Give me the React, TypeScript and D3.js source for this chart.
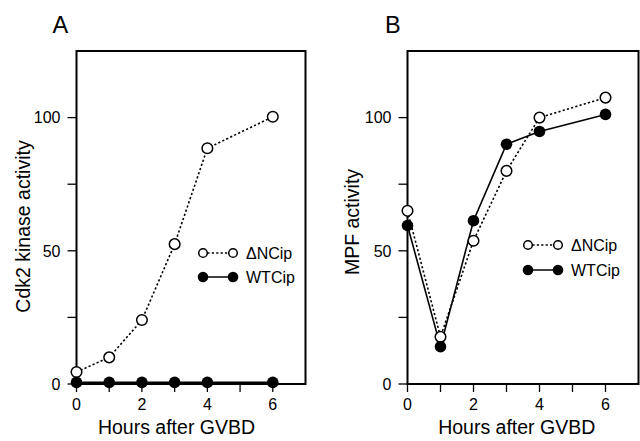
import React from 'react';
import * as d3 from 'd3';

const hours = [0, 1, 2, 3, 4, 6];
const cdk2DeltaNCip = [4.5, 10, 24, 52.5, 88.5, 100.3];
const cdk2WTCip = [0.6, 0.6, 0.6, 0.6, 0.6, 0.6];
const mpfDeltaNCip = [65, 17.7, 53.8, 80, 100, 107.5];
const mpfWTCip = [59.5, 14, 61.3, 90, 94.8, 101.2];
const xTicks = [0, 1, 2, 3, 4, 5, 6];
const xTickLabels = [0, 2, 4, 6];
const yTicks = [0, 25, 50, 75, 100];
const yTickLabels = [0, 50, 100];
const seriesNames = ['\u0394NCip', 'WTCip'];
const xTitle = 'Hours after GVBD';

const FONT = '"Liberation Sans", Arial, Helvetica, sans-serif';

type PanelProps = {
  title: string;
  titleX: number;
  left: number;
  right: number;
  yLabel: string;
  yLabelX: number;
  yLabelY: number;
  xLabelX: number;
  legendX: number;
  legendY: number;
  legendGap: number;
  open: number[];
  filled: number[];
};

function Panel(p: PanelProps) {
  const top = 51;
  const bottom = 384;
  const x = d3.scaleLinear().domain([0, 7]).range([p.left, p.right]);
  const y = d3.scaleLinear().domain([0, 125]).range([bottom, top]);
  const line = d3
    .line<number>()
    .x((_, i) => x(hours[i]))
    .y((d) => y(d));
  return (
    <g fontFamily={FONT} fill="#000">
      <text x={p.titleX} y={33} fontSize={23.5}>{p.title}</text>
      <rect
        x={p.left}
        y={top}
        width={p.right - p.left}
        height={bottom - top}
        fill="none"
        stroke="#000"
        strokeWidth={2}
      />
      {yTicks.map((t) => (
        <line key={'yt' + t} x1={p.left - 9} x2={p.left} y1={y(t)} y2={y(t)} stroke="#000" strokeWidth={1.3} />
      ))}
      {yTickLabels.map((t) => (
        <text key={'yl' + t} x={p.left - 16} y={y(t)} dy="0.36em" textAnchor="end" fontSize={16}>
          {t}
        </text>
      ))}
      {xTicks.map((t) => (
        <line key={'xt' + t} x1={x(t)} x2={x(t)} y1={bottom} y2={bottom + 8} stroke="#000" strokeWidth={1.3} />
      ))}
      {xTickLabels.map((t) => (
        <text key={'xl' + t} x={x(t)} y={bottom + 25.5} textAnchor="middle" fontSize={16}>
          {t}
        </text>
      ))}
      <text x={p.xLabelX} y={434} textAnchor="middle" fontSize={19.5}>{xTitle}</text>
      <text
        transform={`translate(${p.yLabelX},${p.yLabelY}) rotate(-90)`}
        textAnchor="middle"
        fontSize={19.5}
      >
        {p.yLabel}
      </text>
      <path d={line(p.open) || ''} fill="none" stroke="#000" strokeWidth={1.6} strokeDasharray="2.2,2.2" />
      <path d={line(p.filled) || ''} fill="none" stroke="#000" strokeWidth={1.6} />
      {p.open.map((v, i) => (
        <circle key={'o' + i} cx={x(hours[i])} cy={y(v)} r={5.3} fill="#fff" stroke="#000" strokeWidth={1.5} />
      ))}
      {p.filled.map((v, i) => (
        <circle key={'f' + i} cx={x(hours[i])} cy={y(v)} r={5.8} fill="#000" />
      ))}
      {/* legend */}
      <line x1={p.legendX} x2={p.legendX + 30} y1={p.legendY} y2={p.legendY} stroke="#000" strokeWidth={1.5} strokeDasharray="2.2,2.2" />
      <circle cx={p.legendX} cy={p.legendY} r={4.3} fill="#fff" stroke="#000" strokeWidth={1.5} />
      <circle cx={p.legendX + 30} cy={p.legendY} r={4.3} fill="#fff" stroke="#000" strokeWidth={1.5} />
      <text x={p.legendX + 43} y={p.legendY} dy="0.36em" fontSize={16}>{seriesNames[0]}</text>
      <line x1={p.legendX} x2={p.legendX + 30} y1={p.legendY + p.legendGap} y2={p.legendY + p.legendGap} stroke="#000" strokeWidth={1.5} />
      <circle cx={p.legendX} cy={p.legendY + p.legendGap} r={5.3} fill="#000" />
      <circle cx={p.legendX + 30} cy={p.legendY + p.legendGap} r={5.3} fill="#000" />
      <text x={p.legendX + 43} y={p.legendY + p.legendGap} dy="0.36em" fontSize={16}>{seriesNames[1]}</text>
    </g>
  );
}

export default function App() {
  return (
    <svg
      width={640}
      height={441}
      viewBox="0 0 640 441"
      style={{ position: 'absolute', left: 0, top: 0, background: '#fff' }}
    >
      <rect x={0} y={0} width={640} height={441} fill="#fff" />
      <Panel
        title="A"
        titleX={52.5}
        left={76.5}
        right={305.5}
        yLabel="Cdk2 kinase activity"
        yLabelX={30}
        yLabelY={226.5}
        xLabelX={176.5}
        legendX={203}
        legendY={253}
        legendGap={24}
        open={cdk2DeltaNCip}
        filled={cdk2WTCip}
      />
      <Panel
        title="B"
        titleX={385}
        left={407.5}
        right={638.5}
        yLabel="MPF activity"
        yLabelX={359}
        yLabelY={222}
        xLabelX={516.7}
        legendX={528}
        legendY={245}
        legendGap={25}
        open={mpfDeltaNCip}
        filled={mpfWTCip}
      />
    </svg>
  );
}
